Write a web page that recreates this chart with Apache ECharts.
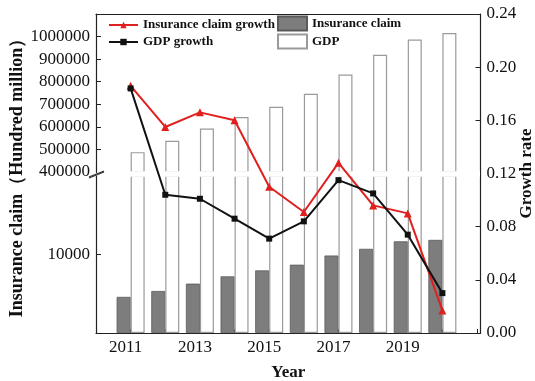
<!DOCTYPE html>
<html>
<head>
<meta charset="utf-8">
<script src="https://cdn.jsdelivr.net/npm/echarts@6/dist/echarts.min.js"></script>
<style>
  html, body { margin: 0; padding: 0; background: #fff; }
  #chart { width: 535px; height: 381px; }
</style>
</head>
<body>
<div id="chart"></div>
<script>
// ---- data ----
const years = [2011, 2012, 2013, 2014, 2015, 2016, 2017, 2018, 2019, 2020];
const insuranceClaim = [4600, 5350, 6290, 7215, 7975, 8700, 9870, 10720, 11680, 11860];
const gdp = [487940, 538580, 592963, 643563, 688858, 746395, 832036, 919281, 986515, 1015986];
const claimGrowth = [0.186, 0.155, 0.166, 0.160, 0.110, 0.091, 0.128, 0.096, 0.090, 0.017];
const gdpGrowth = [0.184, 0.104, 0.101, 0.086, 0.071, 0.084, 0.115, 0.105, 0.074, 0.030];

// tick values
const upperTicks = [400000, 500000, 600000, 700000, 800000, 900000, 1000000];
const lowerTicks = [10000];
const yearLabels = [2011, 2013, 2015, 2017, 2019];

// ---- layout ----
const W = 535, H = 381;
const plotLeft = 96, plotRight = 480.5, plotTop = 14, plotBottom = 333;
const upperBottom = 172;   // bottom of the upper (GDP) segment
const lowerTop = 176;      // top of the lower (claim) segment

const FONT = "'Liberation Serif', 'Times New Roman', serif";
const AXIS_COLOR = '#222';
const RED = '#e0201e';
const BLACK = '#111';

const pairs = (vals) => years.map((y, i) => [y, vals[i]]);

const xBase = { type: 'value', min: 2010, max: 2021.1, interval: 1, splitLine: { show: false } };
const gridBase = { left: plotLeft, right: W - plotRight, containLabel: false, outerBoundsMode: 'none' };
const titleStyle = { fontSize: 17, fontWeight: 'bold', color: '#111', fontFamily: FONT };
const legendText = { fontSize: 13, fontWeight: 'bold', color: '#111', fontFamily: FONT };

const chart = echarts.init(document.getElementById('chart'), null, { renderer: 'canvas' });

const option = {
  backgroundColor: '#fff',
  animation: false,
  textStyle: { fontFamily: FONT },
  grid: [
    Object.assign({}, gridBase, { top: plotTop, height: upperBottom - plotTop }),
    Object.assign({}, gridBase, { top: lowerTop, bottom: H - plotBottom }),
    Object.assign({}, gridBase, { top: plotTop, bottom: H - plotBottom })
  ],
  xAxis: [
    Object.assign({}, xBase, {
      gridIndex: 0, position: 'top',
      axisLine: { show: true, lineStyle: { color: AXIS_COLOR, width: 1.2 } },
      axisTick: { show: false }, axisLabel: { show: false }
    }),
    Object.assign({}, xBase, {
      gridIndex: 1, show: false
    }),
    Object.assign({}, xBase, {
      gridIndex: 2, position: 'bottom',
      axisLine: { show: true, onZero: false, lineStyle: { color: AXIS_COLOR, width: 1.2 } },
      axisTick: { show: true, inside: true, length: 4, lineStyle: { color: AXIS_COLOR } },
      axisLabel: {
        color: '#111', fontSize: 17, fontFamily: FONT, margin: 6,
        padding: [0, 10, 0, 0],
        formatter: (v) => (yearLabels.indexOf(v) >= 0 ? String(v) : '')
      },
      name: 'Year', nameLocation: 'middle', nameGap: 31, nameMoveOverlap: false,
      nameTextStyle: titleStyle
    })
  ],
  yAxis: [
    {
      gridIndex: 0, type: 'value', min: 400000, max: 1100000, interval: 100000,
      position: 'left', splitLine: { show: false },
      axisLine: { show: true, onZero: false, lineStyle: { color: AXIS_COLOR, width: 1.2 } },
      axisTick: { show: true, inside: true, length: 5, customValues: upperTicks, lineStyle: { color: AXIS_COLOR } },
      axisLabel: { color: '#111', fontSize: 17, fontFamily: FONT, margin: 6, customValues: upperTicks, formatter: (v) => String(v) }
    },
    {
      gridIndex: 1, type: 'value', min: 0, max: 20000, interval: 10000,
      position: 'left', splitLine: { show: false },
      axisLine: { show: true, onZero: false, lineStyle: { color: AXIS_COLOR, width: 1.2 } },
      axisTick: { show: true, inside: true, length: 5, customValues: lowerTicks, lineStyle: { color: AXIS_COLOR } },
      axisLabel: { color: '#111', fontSize: 17, fontFamily: FONT, margin: 6, customValues: lowerTicks, formatter: (v) => String(v) }
    },
    {
      gridIndex: 2, type: 'value', min: 0, max: 0.24, interval: 0.04,
      position: 'right', splitLine: { show: false },
      axisLine: { show: true, onZero: false, lineStyle: { color: AXIS_COLOR, width: 1.2 } },
      axisTick: { show: true, inside: true, length: 5, lineStyle: { color: AXIS_COLOR } },
      axisLabel: { color: '#111', fontSize: 17, fontFamily: FONT, margin: 6, formatter: (v) => v.toFixed(2) },
      name: 'Growth rate', nameLocation: 'middle', nameGap: 38, nameRotate: 90, nameMoveOverlap: false,
      nameTextStyle: titleStyle
    },
    {
      gridIndex: 2, type: 'value', min: 0, max: 1,
      position: 'left', splitLine: { show: false },
      axisLine: { show: false }, axisTick: { show: false }, axisLabel: { show: false },
      name: 'Insurance claim（Hundred million）', nameLocation: 'middle', nameGap: 70, nameRotate: 90,
      nameMoveOverlap: false,
      nameTextStyle: Object.assign({}, titleStyle, { fontSize: 18 })
    }
  ],
  legend: [
    {
      data: ['Insurance claim growth', 'GDP growth'],
      orient: 'vertical', left: 108, top: 18.5, padding: 0,
      itemWidth: 29, itemHeight: 8, itemGap: 4,
      textStyle: legendText
    },
    {
      data: ['Insurance claim', 'GDP'],
      orient: 'vertical', left: 277, top: 15.5, padding: 0,
      itemWidth: 29, itemHeight: 14, itemGap: 2,
      icon: 'rect',
      textStyle: legendText
    }
  ],
  series: [
    {
      name: 'Insurance claim', type: 'bar', xAxisIndex: 1, yAxisIndex: 1,
      barWidth: 14, barGap: '0%', data: pairs(insuranceClaim),
      itemStyle: { color: '#7d7d7d', borderColor: '#5a5a5a', borderWidth: 0.8 }
    },
    {
      name: 'GDP', type: 'bar', xAxisIndex: 1, yAxisIndex: 1,
      barWidth: 14, barGap: '0%', data: pairs(gdp),
      itemStyle: { color: '#fff', borderColor: '#9a9a9a', borderWidth: 1.2 }
    },
    {
      // claim values sit below this segment's range; keeps the GDP bars offset to the right
      name: 'Insurance claim', type: 'bar', xAxisIndex: 0, yAxisIndex: 0,
      barWidth: 14, barGap: '0%', data: pairs(insuranceClaim), silent: true,
      itemStyle: { color: '#7d7d7d', borderColor: '#5a5a5a', borderWidth: 0.8 }
    },
    {
      name: 'GDP', type: 'bar', xAxisIndex: 0, yAxisIndex: 0,
      barWidth: 14, barGap: '0%', data: pairs(gdp),
      itemStyle: { color: '#fff', borderColor: '#9a9a9a', borderWidth: 1.2 }
    },
    {
      name: 'Insurance claim growth', type: 'line', xAxisIndex: 2, yAxisIndex: 2, z: 10,
      data: pairs(claimGrowth), symbol: 'triangle', symbolSize: 8,
      lineStyle: { color: RED, width: 2 }, itemStyle: { color: RED }
    },
    {
      name: 'GDP growth', type: 'line', xAxisIndex: 2, yAxisIndex: 2, z: 11,
      data: pairs(gdpGrowth), symbol: 'rect', symbolSize: 6,
      lineStyle: { color: BLACK, width: 2 }, itemStyle: { color: BLACK }
    }
  ],
  graphic: [
    // gap between the two value segments
    {
      type: 'rect', z: 5, silent: true,
      shape: { x: plotLeft + 1, y: upperBottom - 0.8, width: plotRight - plotLeft - 1.5, height: lowerTop - upperBottom + 1.6 },
      style: { fill: '#fff' }
    },
    // break marks on the left axis
    {
      type: 'line', z: 6, silent: true,
      shape: { x1: plotLeft - 7, y1: upperBottom + 5, x2: plotLeft + 8, y2: upperBottom - 1 },
      style: { stroke: '#333', lineWidth: 1.2 }
    },
    {
      type: 'line', z: 6, silent: true,
      shape: { x1: plotLeft - 7, y1: lowerTop + 2, x2: plotLeft + 8, y2: lowerTop - 4 },
      style: { stroke: '#333', lineWidth: 1.2 }
    }
  ]
};

chart.setOption(option);
</script>
</body>
</html>
